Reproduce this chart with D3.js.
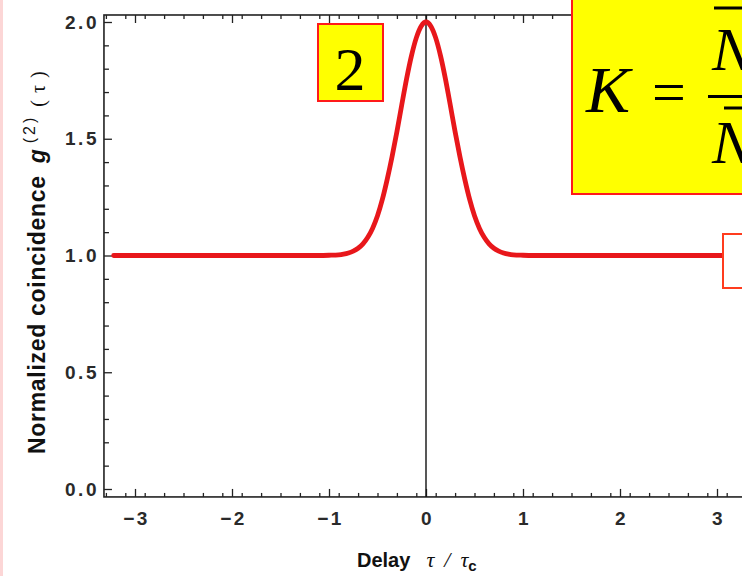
<!DOCTYPE html>
<html>
<head>
<meta charset="utf-8">
<script src="https://cdn.jsdelivr.net/npm/d3@7"></script>
<style>
  body { margin: 0; background: #fff; }
  svg { display: block; }
</style>
</head>
<body>
<svg id="chart" width="742" height="576"></svg>
<script>
// delay (tau / tau_c) and normalized coincidence g2
const tau = [-3.22, -1.3, -1.1, -1.0, -0.9, -0.85, -0.8, -0.75, -0.7, -0.65, -0.6, -0.55, -0.5, -0.45, -0.4, -0.35, -0.3, -0.25, -0.2, -0.15, -0.1, -0.05, 0,
             0.05, 0.1, 0.15, 0.2, 0.25, 0.3, 0.35, 0.4, 0.45, 0.5, 0.55, 0.6, 0.65, 0.7, 0.75, 0.8, 0.85, 0.9, 1.0, 1.1, 1.3, 3.22];
const g2  = [1.000, 1.000, 1.000, 1.001, 1.003, 1.006, 1.011, 1.019, 1.031, 1.050, 1.078, 1.117, 1.170, 1.240, 1.326, 1.423, 1.530, 1.645, 1.757, 1.855, 1.932, 1.982, 2.000,
             1.982, 1.932, 1.855, 1.757, 1.645, 1.530, 1.423, 1.326, 1.240, 1.170, 1.117, 1.078, 1.050, 1.031, 1.019, 1.011, 1.006, 1.003, 1.001, 1.000, 1.000, 1.000];

const xMajor = [-3, -2, -1, 0, 1, 2, 3];
const yMajor = [0.0, 0.5, 1.0, 1.5, 2.0];

const svg = d3.select('#chart');

const x = d3.scaleLinear().domain([-3, 3]).range([135, 717]);
const y = d3.scaleLinear().domain([0, 2]).range([489, 22]);

const xLo = -3.32, xHi = 3.34, yLo = -0.034, yHi = 2.03;

const xMinor = d3.range(-33, 34, 2).map(d => d / 10).filter(d => Math.abs(d - Math.round(d)) > 1e-6);
const yMinor = d3.range(0, 21).map(d => d / 10).filter(d => Math.abs(d * 2 - Math.round(d * 2)) > 1e-6);

// pink strip on the left edge of the slide
svg.append('rect').attr('x', 0).attr('y', 0).attr('width', 3).attr('height', 576).attr('fill', '#fcd6d6');

const tickFont = g => g.selectAll('text')
    .style('font-family', '"Liberation Sans", Arial, sans-serif')
    .style('font-weight', 'bold')
    .style('font-size', '19px')
    .style('letter-spacing', '2.5px')
    .style('fill', '#2a2a2a');

// bottom axis
const bottomG = svg.append('g').attr('transform', 'translate(0,' + y(yLo) + ')');
bottomG.call(d3.axisBottom(x).tickValues(xMajor).tickSize(-8).tickPadding(15).tickFormat(d3.format('d')))
    .call(tickFont);
bottomG.selectAll('.tick text').attr('dx', '1px');
bottomG.append('g').call(d3.axisBottom(x).tickValues(xMinor).tickSize(-4).tickFormat(''));

// top axis
const topG = svg.append('g').attr('transform', 'translate(0,' + y(yHi) + ')');
topG.call(d3.axisTop(x).tickValues(xMajor).tickSize(-8).tickFormat(''));
topG.append('g').call(d3.axisTop(x).tickValues(xMinor).tickSize(-4).tickFormat(''));

// left axis
const leftG = svg.append('g').attr('transform', 'translate(' + x(xLo) + ',0)');
leftG.call(d3.axisLeft(y).tickValues(yMajor).tickSize(-8).tickPadding(5).tickFormat(d3.format('.1f')))
    .call(tickFont);
leftG.append('g').call(d3.axisLeft(y).tickValues(yMinor).tickSize(-5).tickFormat(''));

svg.selectAll('.domain').remove();
svg.selectAll('.tick line').attr('stroke', '#222').attr('stroke-width', 1.3);

// frame
svg.append('rect')
    .attr('x', x(xLo)).attr('y', y(yHi))
    .attr('width', x(xHi) - x(xLo)).attr('height', y(yLo) - y(yHi))
    .attr('fill', 'none').attr('stroke', '#222').attr('stroke-width', 1.6);

// zero-delay line
svg.append('line')
    .attr('x1', x(0)).attr('x2', x(0)).attr('y1', y(yHi)).attr('y2', y(yLo))
    .attr('stroke', '#111').attr('stroke-width', 1.4);

// g2 curve
const pts = tau.map((t, i) => [t, g2[i]]);
svg.append('path')
    .datum(pts)
    .attr('d', d3.line().x(d => x(d[0])).y(d => y(d[1])).curve(d3.curveMonotoneX))
    .attr('fill', 'none')
    .attr('stroke', '#e8171b')
    .attr('stroke-width', 4.8)
    .attr('stroke-linecap', 'round');

// axis labels
const yLab = svg.append('text')
    .attr('transform', 'translate(45,' + 454 + ') rotate(-90)')
    .style('font-family', '"Liberation Sans", Arial, sans-serif')
    .style('font-weight', 'bold')
    .style('font-size', '23px')
    .style('fill', '#111');
yLab.append('tspan').text('Normalized coincidence').style('letter-spacing', '0.7px');
yLab.append('tspan').attr('dx', 12).text('g').style('font-style', 'italic');
yLab.append('tspan').attr('dx', 6).attr('dy', -10).text('(2)').style('font-size', '16px').style('font-weight', 'normal').style('letter-spacing', '3px');
yLab.append('tspan').attr('dx', 8).attr('dy', 10).text('(τ)').style('font-family', '"Liberation Serif", serif').style('font-weight', 'normal').style('letter-spacing', '7px').style('font-size', '20px');

const xLab = svg.append('text')
    .attr('x', 357).attr('y', 567)
    .style('font-family', '"Liberation Sans", Arial, sans-serif')
    .style('font-weight', 'bold')
    .style('font-size', '20px')
    .style('fill', '#111');
xLab.append('tspan').text('Delay');
xLab.append('tspan').attr('dx', 16).text('τ').style('font-family', '"Liberation Serif", serif').style('font-style', 'italic').style('font-weight', 'normal').style('font-size', '22px');
xLab.append('tspan').attr('dx', 10).text('/').style('font-family', '"Liberation Serif", serif').style('font-style', 'italic').style('font-weight', 'normal').style('font-size', '22px');
xLab.append('tspan').attr('dx', 10).text('τ').style('font-family', '"Liberation Serif", serif').style('font-style', 'italic').style('font-weight', 'normal').style('font-size', '22px');
xLab.append('tspan').attr('dy', 4).text('c').style('font-size', '15px');

// yellow "2" label
svg.append('rect').attr('x', 318).attr('y', 24).attr('width', 65).attr('height', 77)
    .attr('fill', '#ffff00').attr('stroke', '#ff1a1a').attr('stroke-width', 2);
svg.append('text').attr('x', 350).attr('y', 90).attr('text-anchor', 'middle')
    .style('font-family', '"Liberation Serif", "Times New Roman", serif')
    .style('font-size', '62px').style('fill', '#000').text('2');

// formula box (cut off by the right edge, as in the slide)
svg.append('rect').attr('x', 572).attr('y', -4).attr('width', 200).attr('height', 198)
    .attr('fill', '#ffff00').attr('stroke', '#ff1a1a').attr('stroke-width', 2);
const serif = '"Liberation Serif", "Times New Roman", serif';
svg.append('text').attr('x', 586).attr('y', 112)
    .style('font-family', serif).style('font-style', 'italic').style('font-size', '66px').style('fill', '#000').text('K');
svg.append('text').attr('x', 652).attr('y', 112)
    .style('font-family', serif).style('font-size', '60px').style('fill', '#000').text('=');
svg.append('line').attr('x1', 708).attr('x2', 760).attr('y1', 96.5).attr('y2', 96.5).attr('stroke', '#000').attr('stroke-width', 3);
svg.append('line').attr('x1', 714).attr('x2', 760).attr('y1', 8).attr('y2', 8).attr('stroke', '#000').attr('stroke-width', 3);
svg.append('line').attr('x1', 724).attr('x2', 760).attr('y1', 108).attr('y2', 108).attr('stroke', '#000').attr('stroke-width', 3);
svg.append('text').attr('x', 712).attr('y', 70)
    .style('font-family', serif).style('font-style', 'italic').style('font-size', '62px').style('fill', '#000').text('N');
svg.append('text').attr('x', 712).attr('y', 163)
    .style('font-family', serif).style('font-style', 'italic').style('font-size', '62px').style('fill', '#000').text('N');

// small outlined box on the right edge
svg.append('rect').attr('x', 723).attr('y', 234).attr('width', 40).attr('height', 54)
    .attr('fill', '#fff').attr('stroke', '#ff3c1e').attr('stroke-width', 2);
</script>
</body>
</html>
